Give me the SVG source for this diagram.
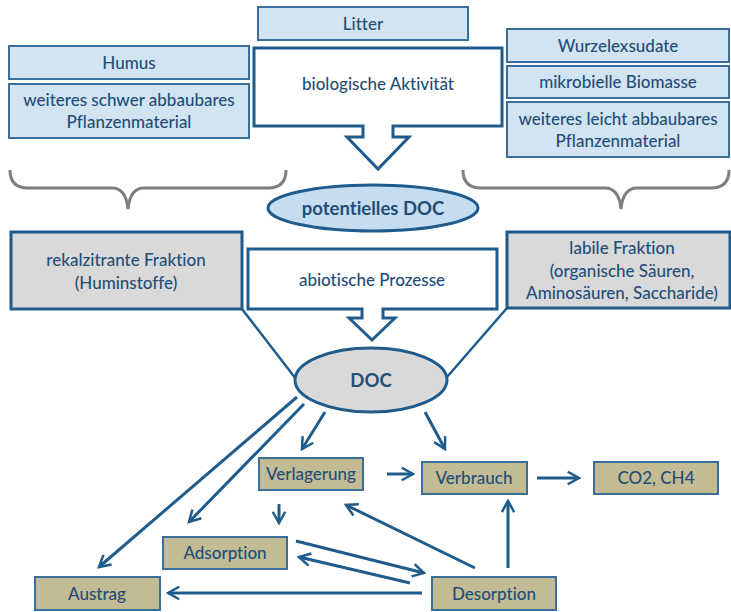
<svg xmlns="http://www.w3.org/2000/svg" width="731" height="612" viewBox="0 0 731 612">
<defs>
<style>
.t{font-family:Lato,"Open Sans","Liberation Sans",sans-serif;font-size:17px;fill:#1f4e79;text-anchor:middle;font-variant-ligatures:none;font-weight:500}
.b{font-weight:bold}
.lb{fill:#d2e3f1;stroke:#3a6f9c;stroke-width:2}
.gr{fill:#d9d9d9;stroke:#1f5c8c;stroke-width:3}
.tan{fill:#c3bb93;stroke:#3a6f9c;stroke-width:2}
.co{fill:#fff;stroke:#1f5c8c;stroke-width:3;stroke-linejoin:miter}
.br{fill:none;stroke:#7f7f7f;stroke-width:3}
.ar{fill:none;stroke:#1f5c8c;stroke-width:3;marker-end:url(#m)}
.ln{fill:none;stroke:#1f5c8c;stroke-width:2.5}
</style>
<marker id="m" viewBox="0 0 12 12" refX="10" refY="6" markerWidth="5" markerHeight="5" orient="auto" markerUnits="strokeWidth">
<path d="M1,1 L10,6 L1,11" fill="none" stroke="#1f5c8c" stroke-width="2"/>
</marker>
</defs>

<g id="litter"><rect class="lb" x="258" y="7" width="210" height="33"/><text class="t" x="363" y="29.5">Litter</text></g>
<g id="humus"><rect class="lb" x="9" y="46" width="240" height="33"/><text class="t" x="129" y="68.5">Humus</text></g>
<g id="schwer"><rect class="lb" x="9" y="84" width="240" height="54"/><text class="t" x="129" y="106">weiteres schwer abbaubares</text><text class="t" x="129" y="128">Pflanzenmaterial</text></g>
<g id="wurzel"><rect class="lb" x="507" y="29" width="222" height="33"/><text class="t" x="618" y="51.5">Wurzelexsudate</text></g>
<g id="mikro"><rect class="lb" x="507" y="66" width="222" height="32"/><text class="t" x="618" y="88">mikrobielle Biomasse</text></g>
<g id="leicht"><rect class="lb" x="507" y="102" width="222" height="55"/><text class="t" x="618" y="125">weiteres leicht abbaubares</text><text class="t" x="618" y="147">Pflanzenmaterial</text></g>

<g id="bio">
<path class="co" d="M254,48 H502 V126 H393 V137 H409 L378,169 L347,137 H363 V126 H254 Z"/>
<text class="t" x="378" y="90">biologische Aktivität</text>
</g>

<g id="braces">
<path class="br" d="M10,170 Q10,188 28,188 H112 Q126,188 128,209 Q130,188 144,188 H268 Q286,188 286,170"/>
<path class="br" d="M463,170 Q463,188 481,188 H605 Q619,188 621,209 Q623,188 637,188 H711 Q729,188 729,170"/>
</g>

<g id="potDOC">
<ellipse cx="373" cy="208" rx="105" ry="23" fill="#c6dcef" stroke="#1f5c8c" stroke-width="3"/>
<text class="t b" x="373" y="215" style="font-size:18.5px">potentielles DOC</text>
</g>

<g id="rekal"><rect class="gr" x="11" y="232" width="231" height="77"/><text class="t" x="126" y="266">rekalzitrante Fraktion</text><text class="t" x="126" y="289">(Huminstoffe)</text></g>
<g id="labil"><rect class="gr" x="507" y="232" width="223" height="76"/><text class="t" x="622" y="254">labile Fraktion</text><text class="t" x="622" y="277">(organische Säuren,</text><text class="t" x="622" y="299">Aminosäuren, Saccharide)</text></g>

<g id="abio">
<path class="co" d="M248,249 H497 V309 H383 V318 H395 L372,340 L349,318 H362 V309 H248 Z"/>
<text class="t" x="372" y="286">abiotische Prozesse</text>
</g>

<g id="funnel">
<path class="ln" d="M242,309 L296,379"/>
<path class="ln" d="M507,308 L447,377"/>
</g>

<g id="DOC">
<ellipse cx="371" cy="380" rx="76" ry="32" fill="#d9d9d9" stroke="#1f5c8c" stroke-width="3"/>
<text class="t b" x="371" y="387" style="font-size:18.5px">DOC</text>
</g>

<g id="verlagerung"><rect class="tan" x="259" y="458" width="104" height="32"/><text class="t" x="311" y="480">Verlagerung</text></g>
<g id="verbrauch"><rect class="tan" x="422" y="462" width="105" height="32"/><text class="t" x="474" y="484">Verbrauch</text></g>
<g id="co2"><rect class="tan" x="594" y="462" width="124" height="32"/><text class="t" x="656" y="484">CO2, CH4</text></g>
<g id="adsorption"><rect class="tan" x="163" y="537" width="124" height="32"/><text class="t" x="225" y="559">Adsorption</text></g>
<g id="austrag"><rect class="tan" x="35" y="577" width="125" height="33"/><text class="t" x="97" y="600">Austrag</text></g>
<g id="desorption"><rect class="tan" x="432" y="577" width="124" height="33"/><text class="t" x="494" y="600">Desorption</text></g>

<g id="connectors">
<path class="ar" d="M297,397 L99,567"/>
<path class="ar" d="M304,404 L189,522"/>
<path class="ar" d="M325,412 L302,449"/>
<path class="ar" d="M425,412 L445,449"/>
<path class="ar" d="M387,474 L413,474"/>
<path class="ar" d="M537,478 L579,478"/>
<path class="ar" d="M279,504 L279,523"/>
<path class="ar" d="M296,541 L424,573"/>
<path class="ar" d="M410,583 L299,557"/>
<path class="ar" d="M422,593 L168,593"/>
<path class="ar" d="M475,568 L346,505"/>
<path class="ar" d="M508,568 L508,501"/>
</g>
</svg>
